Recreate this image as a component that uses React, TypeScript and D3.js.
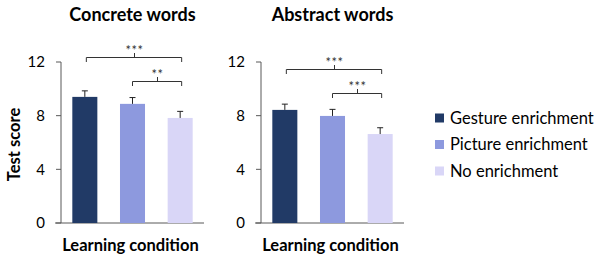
import React from 'react';
import * as d3 from 'd3';

const conditions = ['Gesture enrichment', 'Picture enrichment', 'No enrichment'];
const colors = ['#213a66', '#8d99de', '#d9d6f7'];
const yTicks = [0, 4, 8, 12];

const panelTitles = ['Concrete words', 'Abstract words'];
const concreteMeans = [9.4, 8.88, 7.83];
const concreteErrors = [0.45, 0.47, 0.49];
const abstractMeans = [8.43, 7.98, 6.63];
const abstractErrors = [0.43, 0.49, 0.47];
const concreteStars = ['***', '**'];
const abstractStars = ['***', '***'];

const FONT = 'Lato, "Open Sans", sans-serif';

const width = 597;
const height = 256;
const margin = { top: 62, bottom: 223, left: 61, right: 204 };

interface PanelProps {
  title: string;
  means: number[];
  errors: number[];
  stars: string[];
  offset: number;
  showYLabel: boolean;
  bracketY: [number, number];
}

const Panel: React.FC<PanelProps> = ({ title, means, errors, stars, offset, showYLabel, bracketY }) => {
  const x = d3.scaleBand<string>()
    .domain(conditions)
    .range([margin.left, margin.right])
    .paddingInner(0.475)
    .paddingOuter(0.2375);
  const y = d3.scaleLinear().domain([0, 12]).range([margin.bottom, margin.top]);
  const bw = x.bandwidth();
  const cx = (i: number) => (x(conditions[i]) ?? 0) + bw / 2;

  // brackets: [from, to]
  const brackets: Array<[number, number]> = [[0, 2], [1, 2]];

  return (
    <g transform={`translate(${offset},0)`}>
      <text x={(margin.left + margin.right) / 2} y={21} textAnchor="middle"
        fontFamily={FONT} fontWeight="bold" fontSize={18} fill="#000">{title}</text>

      {/* y axis */}
      <line x1={margin.left} x2={margin.left} y1={y(12)} y2={y(0)} stroke="#595959" strokeWidth={1} />
      {yTicks.map(t => (
        <g key={t}>
          <line x1={margin.left - 5} x2={margin.left} y1={y(t)} y2={y(t)} stroke="#595959" />
          <text x={45} y={y(t)} dy="0.35em" textAnchor="end" fontFamily={FONT} fontSize={15} fill="#000">{t}</text>
        </g>
      ))}
      <line x1={margin.left - 6} x2={margin.right} y1={y(0)} y2={y(0)} stroke="#595959" />

      {/* bars */}
      {means.map((m, i) => (
        <g key={i}>
          <rect x={x(conditions[i])} y={y(m)} width={bw} height={y(0) - y(m)} fill={colors[i]} />
          <line x1={cx(i)} x2={cx(i)} y1={y(m)} y2={y(m + errors[i])} stroke="#222" />
          <line x1={cx(i) - 3} x2={cx(i) + 3} y1={y(m + errors[i])} y2={y(m + errors[i])} stroke="#222" />
        </g>
      ))}

      {/* significance brackets */}
      {brackets.map(([a, b], k) => {
        const by = bracketY[k];
        const x1 = a === 0 ? cx(0) + 1.5 : cx(a);
        const x2 = cx(b) + 1.5;
        const mid = Math.round((x1 + x2) / 2) + 0.5;
        return (
          <g key={k} stroke="#333" fill="none">
            <path d={`M${x1},${by + 4.5}V${by}H${x2}V${by + 4.5}`} />
            <line x1={mid} x2={mid} y1={by} y2={by - 4.5} />
            <text x={mid} y={by - 2.5} textAnchor="middle" fontFamily={FONT} fontSize={13}
              letterSpacing={0.5} fill="#333" stroke="none">{stars[k]}</text>
          </g>
        );
      })}

      <text x={(margin.left + margin.right) / 2 - 2} y={251} textAnchor="middle"
        fontFamily={FONT} fontWeight="bold" fontSize={16.5} fill="#000">Learning condition</text>

      {showYLabel && (
        <text transform={`translate(20,${(margin.top + margin.bottom) / 2 + 2}) rotate(-90)`}
          textAnchor="middle" fontFamily={FONT} fontWeight="bold" fontSize={16.5} fill="#000">Test score</text>
      )}
    </g>
  );
};

const App: React.FC = () => (
  <svg width={width} height={height} style={{ position: 'absolute', left: 0, top: 0 }}>
    <rect width={width} height={height} fill="#fff" />
    <Panel title={panelTitles[0]} means={concreteMeans} errors={concreteErrors} stars={concreteStars}
      offset={0} showYLabel bracketY={[57.5, 81.5]} />
    <Panel title={panelTitles[1]} means={abstractMeans} errors={abstractErrors} stars={abstractStars}
      offset={200} showYLabel={false} bracketY={[69.5, 93.5]} />

    {/* legend */}
    {conditions.map((c, i) => (
      <g key={c} transform={`translate(435,${118 + i * 26.5})`}>
        <rect x={0} y={-4.5} width={9} height={9} fill={colors[i]} />
        <text x={15} y={0} dy="0.35em" fontFamily={FONT} fontSize={16.5} fill="#000">{c}</text>
      </g>
    ))}
  </svg>
);

export default App;
